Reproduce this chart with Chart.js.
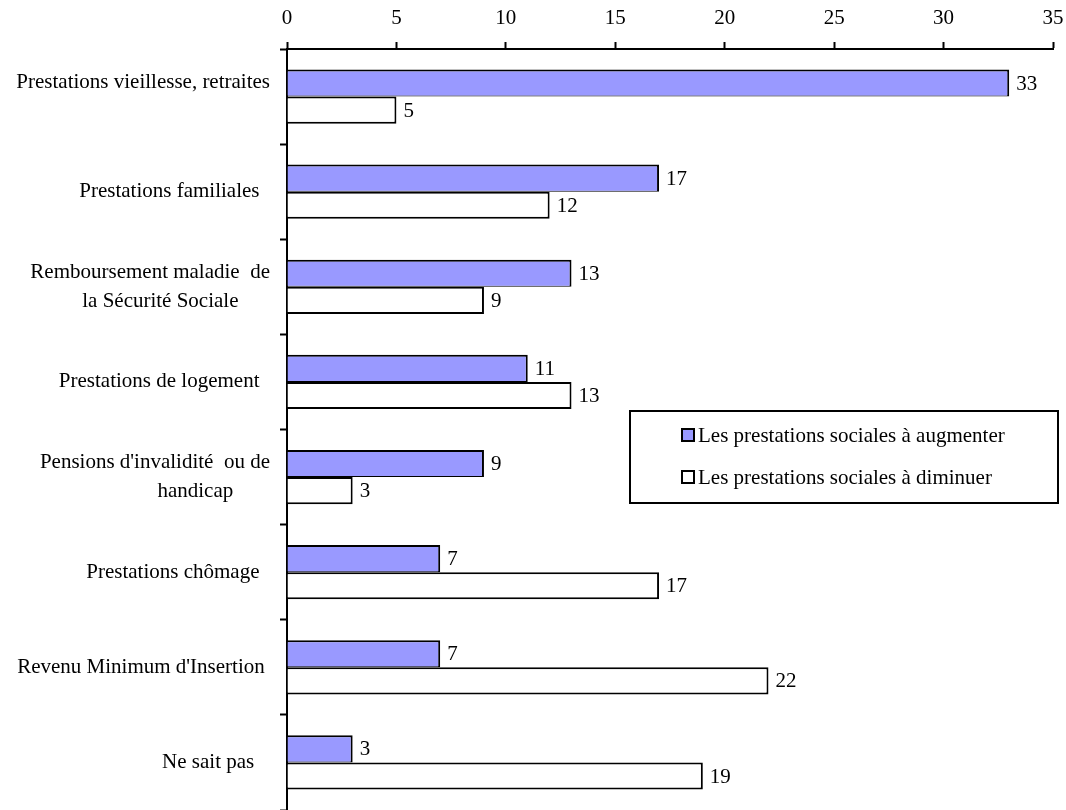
<!DOCTYPE html>
<html>
<head>
<meta charset="utf-8">
<script src="https://cdn.jsdelivr.net/npm/chart.js@4/dist/chart.umd.min.js"></script>
<style>
	html, body { margin: 0; padding: 0; background: #fff; }
	#wrap { width: 1066px; height: 810px; }
</style>
</head>
<body>
<div id="wrap"><canvas id="myChart" width="1066" height="810"></canvas></div>
<script>
// categories as they appear on the axis (trailing spaces are in the source labels)
const categories = [
	['Prestations vieillesse, retraites', ''],
	'Prestations familiales  ',
	['Remboursement maladie  de', 'la Sécurité Sociale      '],
	'Prestations de logement  ',
	['Pensions d\'invalidité  ou de', 'handicap       '],
	'Prestations chômage  ',
	'Revenu Minimum d\'Insertion ',
	'Ne sait pas   '
]

const seriesNames = ['Les prestations sociales à augmenter', 'Les prestations sociales à diminuer']
const augmenter = [33, 17, 13, 11, 9, 7, 7, 3]
const diminuer = [5, 12, 9, 13, 3, 17, 22, 19]
const xTicks = [0, 5, 10, 15, 20, 25, 30, 35]

const FONT = 'Liberation Serif'
const FONT_SIZE = 21
const colors = ['#9999FF', '#FFFFFF']

// value labels right of each bar
const valueLabels = {
	id: 'valueLabels',
	afterDatasetsDraw(chart) {
		const ctx = chart.ctx
		ctx.save()
		ctx.fillStyle = '#000'
		ctx.font = FONT_SIZE + 'px "' + FONT + '"'
		ctx.textAlign = 'left'
		ctx.textBaseline = 'middle'
		chart.data.datasets.forEach((ds, i) => {
			const meta = chart.getDatasetMeta(i)
			meta.data.forEach((bar, j) => {
				ctx.fillText(String(ds.data[j]), bar.x + 7, bar.y + 1)
			})
		})
		ctx.restore()
	}
}

// boxed legend inside the plot, like the original
const boxLegend = {
	id: 'boxLegend',
	afterDraw(chart) {
		const ctx = chart.ctx
		const box = { x: 630, y: 411, w: 428, h: 92 }
		ctx.save()
		ctx.lineWidth = 2
		ctx.strokeStyle = '#000'
		ctx.fillStyle = '#fff'
		ctx.fillRect(box.x, box.y, box.w, box.h)
		ctx.strokeRect(box.x, box.y, box.w, box.h)
		ctx.font = FONT_SIZE + 'px "' + FONT + '"'
		ctx.textBaseline = 'middle'
		ctx.textAlign = 'left'
		const rows = [box.y + 24, box.y + 66]
		chart.data.datasets.forEach((ds, i) => {
			const y = rows[i]
			ctx.fillStyle = ds.backgroundColor
			ctx.fillRect(682, y - 6, 12, 12)
			ctx.lineWidth = 2
			ctx.strokeRect(682, y - 6, 12, 12)
			ctx.fillStyle = '#000'
			ctx.fillText(ds.label, 698, y + 1)
		})
		ctx.restore()
	}
}

const chartData = {
	labels: categories,
	datasets: [
		{ label: seriesNames[0], data: augmenter },
		{ label: seriesNames[1], data: diminuer }
	].map((d, i) => Object.assign(d, {
		backgroundColor: colors[i],
		borderColor: '#000',
		// thinner bottom edge on the top bar so the shared line stays slim
		borderWidth: i === 0 ? { top: 2, right: 2, bottom: 1, left: 0 } : { top: 2, right: 2, bottom: 2, left: 0 },
		borderSkipped: false,
		barPercentage: 1,
		categoryPercentage: 0.57
	}))
}

new Chart(document.getElementById('myChart'), {
	type: 'bar',
	data: chartData,
	plugins: [valueLabels, boxLegend],
	options: {
		indexAxis: 'y',
		responsive: false,
		animation: false,
		layout: { padding: { top: 2, left: 0, right: 13, bottom: -3 } },
		plugins: {
			legend: { display: false },
			tooltip: { enabled: false }
		},
		scales: {
			x: {
				position: 'top',
				min: 0,
				max: 35,
				afterBuildTicks: s => { s.ticks = xTicks.map(v => ({ value: v })) },
				afterFit: s => {
					s.height = 47
					s.paddingLeft = 0
					s.paddingRight = 0
				},
				grid: { drawOnChartArea: false, drawTicks: true, tickLength: 7, tickWidth: 2, tickColor: '#000' },
				border: { display: true, color: '#000', width: 2 },
				ticks: {
					color: '#000',
					padding: 11,
					maxRotation: 0,
					font: { family: FONT, size: FONT_SIZE }
				}
			},
			y: {
				afterFit: s => {
					s.width = 287
					s.paddingTop = 0
					s.paddingBottom = 0
				},
				grid: { drawOnChartArea: false, drawTicks: true, tickLength: 7, tickWidth: 2, tickColor: '#000', offset: true },
				border: { display: true, color: '#000', width: 2 },
				ticks: {
					color: '#000',
					padding: 10,
					autoSkip: false,
					font: { family: FONT, size: FONT_SIZE, lineHeight: 1.35 }
				}
			}
		}
	}
})
</script>
</body>
</html>
